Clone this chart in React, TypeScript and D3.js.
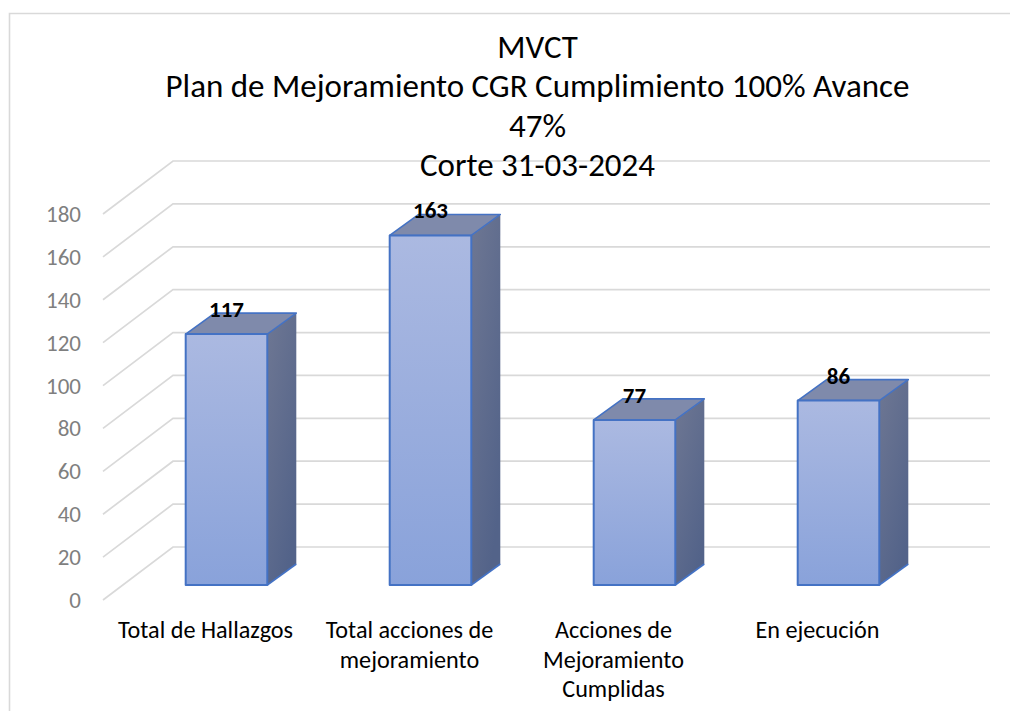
import React from "react";
import * as d3 from "d3";

const categories = ["Total de Hallazgos", "Total acciones de mejoramiento", "Acciones de Mejoramiento Cumplidas", "En ejecución"];
const categoryLines = [["Total de Hallazgos"], ["Total acciones de", "mejoramiento"], ["Acciones de", "Mejoramiento", "Cumplidas"], ["En ejecución"]];
const values = [117, 163, 77, 86];
const ticks = [0, 20, 40, 60, 80, 100, 120, 140, 160, 180];
const titleLines = ["MVCT", "Plan de Mejoramiento CGR Cumplimiento 100% Avance", "47%", "Corte 31-03-2024"];

const FONT = "Carlito, Lato, 'Open Sans', 'Noto Sans', sans-serif";
const gridY = d3.scaleLinear().domain([0, 180]).range([600, 214]);
const barY = d3.scaleLinear().domain([0, 180]).range([585, 199]);
const x = d3.scaleBand().domain(categories).range([124.5, 940.5]).paddingInner(0.6).paddingOuter(0.3);

const gridDx = 70;
const gridDy = -53;
const barDx = 29;
const barDy = -21;

export default function App() {
  const bw = x.bandwidth();
  return (
    <svg width={1010} height={711} style={{ position: "absolute", left: 0, top: 0, background: "#fff" }} fontFamily={FONT}>
      <defs>
        <linearGradient id="front" x1="0" y1="0" x2="0" y2="1">
          <stop offset="0" stopColor="#abb9e1" />
          <stop offset="1" stopColor="#89a2da" />
        </linearGradient>
        <linearGradient id="side" x1="0" y1="0" x2="0.6" y2="1">
          <stop offset="0" stopColor="#6e7793" />
          <stop offset="1" stopColor="#536389" />
        </linearGradient>
      </defs>
      <path d="M9.5 711V13.5H1010" fill="none" stroke="#d9d9d9" strokeWidth={1.6} />
      {ticks.map((t) => (
        <g key={t}>
          <path d={`M103 ${gridY(t)}L${103 + gridDx} ${gridY(t) + gridDy}H990`} fill="none" stroke="#d9d9d9" strokeWidth={1.7} />
          <text x={81} y={gridY(t) + 8} textAnchor="end" fontSize={23} fill="#7f7f7f">{t}</text>
        </g>
      ))}
      {categories.map((c, i) => {
        const left = x(c) as number;
        const cx = left + bw / 2;
        const bottom = barY(0);
        const top = barY(values[i]);
        return (
          <g key={c} strokeLinejoin="round">
            <path d={`M${left + bw} ${bottom}l${barDx} ${barDy}V${top + barDy}l${-barDx} ${-barDy}Z`} fill="url(#side)" />
            <path d={`M${left + bw} ${bottom}l${barDx} ${barDy}`} fill="none" stroke="#4472c4" strokeWidth={1.6} />
            <path d={`M${left} ${top}l${barDx} ${barDy}h${bw}l${-barDx} ${-barDy}Z`} fill="#7f8aab" stroke="#4472c4" strokeWidth={1.6} />
            <rect x={left} y={top} width={bw} height={bottom - top} fill="url(#front)" stroke="#4472c4" strokeWidth={2} />
            <text x={cx} y={top - 17} textAnchor="middle" fontSize={23} fontWeight={700} fill="#000">{values[i]}</text>
            {categoryLines[i].map((l, j) => (
              <text key={l} x={cx - 21} y={638 + j * 29.5} textAnchor="middle" fontSize={24.2} fill="#000">{l}</text>
            ))}
          </g>
        );
      })}
      {titleLines.map((l, i) => (
        <text key={l} x={537.5} y={58 + i * 39.3} textAnchor="middle" fontSize={33} fill="#000">{l}</text>
      ))}
    </svg>
  );
}
